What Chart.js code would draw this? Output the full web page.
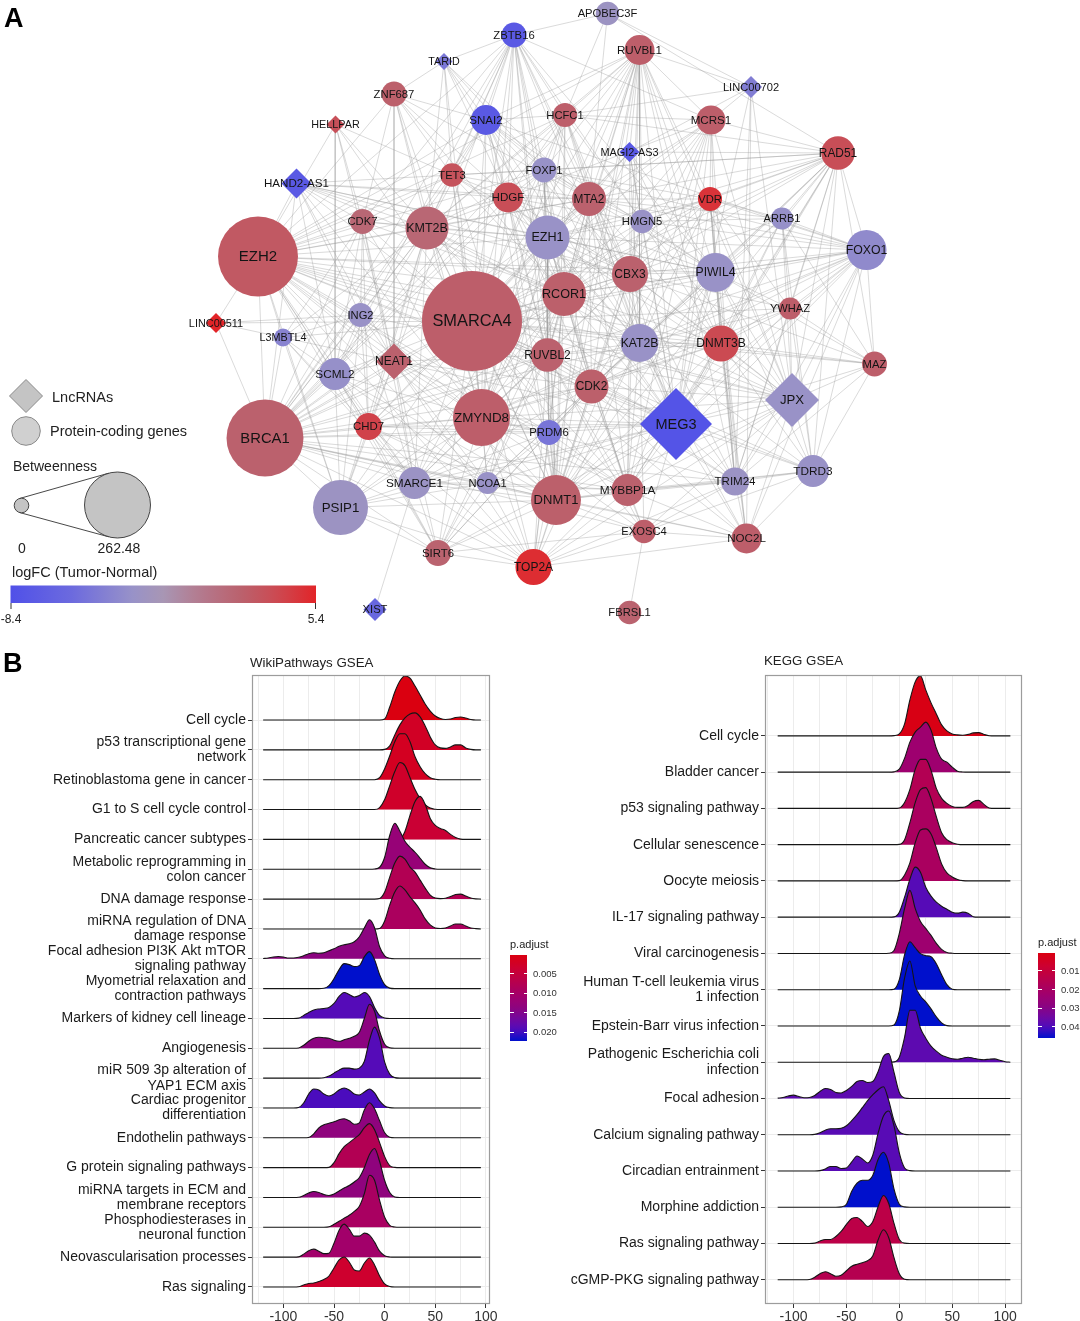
<!DOCTYPE html>
<html><head><meta charset="utf-8">
<script src="https://cdn.jsdelivr.net/npm/chart.js@4.4.1/dist/chart.umd.min.js"></script>
<style>
html,body{margin:0;padding:0;background:#fff;}
#page{position:relative;width:1080px;height:1321px;overflow:hidden;font-family:"Liberation Sans",Arial,Helvetica,sans-serif;color:#222;}
canvas{position:absolute;}
.t{position:absolute;white-space:nowrap;line-height:1;transform:translateY(-50%);}
.c{transform:translate(-50%,-50%);}
svg{position:absolute;left:0;top:0;}
</style></head><body><div id="page">
<canvas id="net" width="1080" height="635" style="left:0px;top:0px"></canvas>
<canvas id="wp" width="500" height="681" style="left:0px;top:640px"></canvas>
<canvas id="kegg" width="540" height="681" style="left:540px;top:640px"></canvas>
<svg id="legA" width="340" height="635"></svg>
<div class="t" style="left:4px;top:18px;font-weight:bold;font-size:27px;color:#000">A</div>
<div class="t" style="left:3px;top:663px;font-weight:bold;font-size:27px;color:#000">B</div>
<div class="t" style="left:52px;top:397px;font-size:14.5px">LncRNAs</div>
<div class="t" style="left:50px;top:431px;font-size:14.5px">Protein-coding genes</div>
<div class="t" style="left:13px;top:466px;font-size:14px">Betweenness</div>
<div class="t c" style="left:22px;top:548px;font-size:14px">0</div>
<div class="t c" style="left:119px;top:548px;font-size:14px">262.48</div>
<div class="t" style="left:12px;top:572px;font-size:14.5px">logFC (Tumor-Normal)</div>
<div class="t c" style="left:11px;top:619px;font-size:12px">-8.4</div>
<div class="t c" style="left:316px;top:619px;font-size:12px">5.4</div>
<div class="t" style="left:250px;top:663px;font-size:13.3px">WikiPathways GSEA</div>
<div class="t" style="left:764px;top:661px;font-size:13.3px">KEGG GSEA</div>
<div id="legWP"></div>
<div id="legKG"></div>
</div>
<script>
// ================= Panel A: network data =================
const nodeNames = ["APOBEC3F","ZBTB16","RUVBL1","TARID","LINC00702","ZNF687","SNAI2","HCFC1","MCRS1","HELLPAR",
 "MAGI2-AS3","RAD51","TET3","FOXP1","HAND2-AS1","HDGF","MTA2","VDR","HMGN5","ARRB1",
 "CDK7","KMT2B","EZH1","FOXO1","EZH2","CBX3","PIWIL4","RCOR1","SMARCA4","YWHAZ",
 "LINC00511","ING2","L3MBTL4","KAT2B","DNMT3B","RUVBL2","MAZ","NEAT1","SCML2","CDK2",
 "JPX","MEG3","CHD7","ZMYND8","BRCA1","PRDM6","TDRD3","SMARCE1","NCOA1","TRIM24",
 "DNMT1","MYBBP1A","PSIP1","EXOSC4","NOC2L","SIRT6","TOP2A","XIST","FBRSL1"];
const nodeX = [607.5,514,639.5,444,751,394,486,565,711,335.5,
 629.5,838,452,544,296.5,508,589,710,642,782,
 362.5,427,547.5,866.5,258,630,715.5,564,472,790,
 216,360.5,283,639.5,721,547.5,874.5,394,335,591.5,
 792,676,368.5,481.5,265,549,813,414.5,487.5,735,
 556,627.5,340.5,644,746.5,438,533.5,375,629.5];
const nodeY = [13.5,35,50,61.5,87,94,120,115,120,124.5,
 152,153,175,170,183.5,197.5,199,199,221.5,218.5,
 221.5,228,237.5,250,256.5,274,272.5,294,321,308.5,
 323,315,337.5,343,343.5,355,364,361.5,374,386.5,
 400,424,426.5,417.5,438,432.5,471,483,483,481.5,
 500,490,507.5,531.5,538.5,553,567,609.5,612.5];
const nodeBetweenness = [1.6,2.4,6.4,0,0.95,2.4,6.4,1.9,5.5,0.04,
 0.34,10.3,1.6,2.4,6.4,6.4,11,1.9,1.6,0.95,
 2.4,25.8,27.7,20.1,151,13.8,18.4,27.7,262.48,0.95,
 0.34,1.9,0.04,16.6,13.8,10.3,2.4,13.8,8.6,11,
 52,115,3.8,60.9,137,2.4,8.6,8.6,0.95,4.6,
 41.4,8.6,55,1.6,6.4,3.1,13.8,1.37,1.6];
const nodeLogFC = [-2.5,-7.4,2.2,-4.7,-4.3,2.1,-7.4,2.2,2.2,3.2,
 -7.4,3.3,3.0,-2.9,-7.4,3.3,2.0,4.7,-2.8,-3.0,
 1.6,1.6,-2.8,-3.4,2.6,2.0,-2.8,2.1,2.2,2.2,
 5.4,-2.8,-3.9,-2.8,3.6,2.0,2.2,2.0,-3.0,2.1,
 -2.8,-8.0,4.0,2.2,2.0,-4.9,-2.8,-2.6,-2.8,-2.6,
 2.1,2.0,-2.5,2.2,2.2,1.9,5.0,-6.0,1.9];
const nodeIsLnc = [0,0,0,1,1,0,0,0,0,1, 1,0,0,0,1,0,0,0,0,0, 0,0,0,0,0,0,0,0,0,0,
 1,0,0,0,0,0,0,1,0,0, 1,1,0,0,0,0,0,0,0,0, 0,0,0,0,0,0,0,1,0];
const edgeLists = [
 "APOBEC3F: RAD51 HCFC1 ZBTB16 MTA2 LINC00702",
 "ZBTB16: SNAI2 HCFC1 FOXP1 TET3 HDGF KMT2B EZH1 SMARCA4 RCOR1 MTA2 CBX3 EZH2 BRCA1 ZMYND8 RUVBL2 DNMT1 KAT2B CDK7 SCML2 NEAT1 PIWIL4 HMGN5 MCRS1 TARID",
 "RUVBL1: HCFC1 MCRS1 MTA2 MAGI2-AS3 HMGN5 CBX3 RCOR1 EZH1 FOXP1 SMARCA4 RUVBL2 KAT2B PIWIL4 CDK2 MEG3 DNMT1 MYBBP1A TRIM24 ZMYND8 EZH2 BRCA1 KMT2B VDR SNAI2 LINC00702 JPX DNMT3B TOP2A",
 "TARID: SNAI2 FOXP1 HDGF TET3 KMT2B EZH1 SMARCA4 MTA2 ZNF687",
 "LINC00702: MCRS1 RUVBL1 MEG3 TRIM24 JPX HCFC1 NOC2L MAGI2-AS3",
 "ZNF687: KMT2B SMARCA4 EZH2 CDK7 TET3 HDGF SNAI2 RCOR1 ZMYND8 MTA2 NEAT1",
 "SNAI2: EZH2 KMT2B SMARCA4 TET3 HDGF FOXP1 EZH1 RCOR1 MTA2 CBX3 ZMYND8 BRCA1 HCFC1 KAT2B DNMT1 PIWIL4 FOXO1 RUVBL2",
 "HCFC1: MCRS1 MTA2 FOXP1 EZH1 HDGF KMT2B SMARCA4 RCOR1 CBX3 KAT2B EZH2 BRCA1 DNMT1 MEG3 ZMYND8 RAD51 HMGN5",
 "MCRS1: MTA2 HMGN5 CBX3 RCOR1 KAT2B PIWIL4 MEG3 DNMT1 MYBBP1A RAD51 SMARCA4 EZH1 VDR HDGF JPX TRIM24",
 "HELLPAR: EZH2 CDK7 KMT2B SMARCA4 TET3 SCML2 NEAT1",
 "MAGI2-AS3: MTA2 CBX3 HMGN5 RCOR1 EZH1 KAT2B SMARCA4 PIWIL4 DNMT3B MEG3 RAD51",
 "RAD51: MCRS1 VDR ARRB1 FOXO1 PIWIL4 DNMT3B KAT2B CBX3 MTA2 HMGN5 EZH1 YWHAZ JPX MEG3 TRIM24 TDRD3 MAZ SMARCA4 RCOR1 HCFC1 FOXP1 TET3 CDK2 MYBBP1A DNMT1",
 "TET3: HDGF KMT2B EZH2 SMARCA4 CDK7 FOXP1 EZH1 RCOR1 ZMYND8 BRCA1 HAND2-AS1 MTA2 CBX3 DNMT1",
 "FOXP1: HDGF MTA2 EZH1 SMARCA4 RCOR1 KMT2B EZH2 CBX3 KAT2B ZMYND8 DNMT1 BRCA1 CDK2 HMGN5 VDR RUVBL2 PRDM6 FOXO1",
 "HAND2-AS1: EZH2 KMT2B SMARCA4 HDGF EZH1 TET3 CDK7 ING2 BRCA1 SCML2 NEAT1 ZMYND8 RCOR1 CBX3 MTA2 PIWIL4",
 "HDGF: MTA2 EZH1 SMARCA4 KMT2B RCOR1 EZH2 CBX3 ZMYND8 DNMT1 BRCA1 KAT2B RUVBL2 CDK2 PIWIL4 MEG3 HMGN5",
 "MTA2: HMGN5 EZH1 CBX3 RCOR1 SMARCA4 KAT2B PIWIL4 VDR RUVBL2 CDK2 DNMT1 MEG3 ZMYND8 KMT2B EZH2 BRCA1 DNMT3B FOXO1 ARRB1 MYBBP1A",
 "VDR: HMGN5 PIWIL4 CBX3 KAT2B DNMT3B EZH1 SMARCA4 RCOR1 MEG3 JPX FOXO1 ARRB1 CDK2 NOC2L TRIM24 YWHAZ",
 "HMGN5: CBX3 EZH1 PIWIL4 KAT2B SMARCA4 RCOR1 DNMT3B MEG3 CDK2 ARRB1 FOXO1 JPX",
 "ARRB1: FOXO1 PIWIL4 DNMT3B KAT2B YWHAZ JPX MEG3 CBX3 TDRD3 MAZ",
 "CDK7: KMT2B SMARCA4 EZH2 ING2 SCML2 NEAT1 BRCA1 ZMYND8 EZH1 RCOR1 L3MBTL4 CHD7 SMARCE1",
 "KMT2B: EZH2 SMARCA4 EZH1 RCOR1 ING2 NEAT1 SCML2 BRCA1 ZMYND8 CBX3 KAT2B RUVBL2 DNMT1 CHD7 SMARCE1 PSIP1 L3MBTL4 CDK2 MEG3",
 "EZH1: RCOR1 SMARCA4 CBX3 KAT2B PIWIL4 RUVBL2 CDK2 ZMYND8 DNMT1 EZH2 BRCA1 MEG3 PRDM6 DNMT3B NCOA1 SMARCE1 CHD7 MYBBP1A JPX",
 "FOXO1: PIWIL4 KAT2B DNMT3B YWHAZ JPX MEG3 CBX3 RCOR1 SMARCA4 EZH1 TRIM24 TDRD3 MAZ CDK2 RUVBL2 NOC2L ZMYND8 DNMT1 MYBBP1A",
 "EZH2: SMARCA4 BRCA1 ING2 L3MBTL4 SCML2 NEAT1 RCOR1 CBX3 KAT2B ZMYND8 DNMT1 CHD7 SMARCE1 PSIP1 NCOA1 RUVBL2 CDK2 MEG3 PRDM6 SIRT6 TOP2A DNMT3B PIWIL4 MYBBP1A JPX LINC00511",
 "CBX3: RCOR1 SMARCA4 KAT2B PIWIL4 DNMT3B RUVBL2 CDK2 MEG3 JPX ZMYND8 DNMT1 BRCA1 MYBBP1A TRIM24 YWHAZ MAZ",
 "PIWIL4: KAT2B DNMT3B YWHAZ JPX MEG3 CDK2 RCOR1 SMARCA4 TRIM24 TDRD3 MAZ MYBBP1A DNMT1 NOC2L",
 "RCOR1: SMARCA4 KAT2B RUVBL2 CDK2 ZMYND8 DNMT1 MEG3 BRCA1 PRDM6 NCOA1 SMARCE1 CHD7 DNMT3B JPX MYBBP1A TOP2A SIRT6 PSIP1",
 "SMARCA4: BRCA1 ZMYND8 DNMT1 MEG3 KAT2B RUVBL2 CDK2 ING2 NEAT1 SCML2 CHD7 SMARCE1 NCOA1 PRDM6 PSIP1 SIRT6 TOP2A DNMT3B JPX MYBBP1A TRIM24 L3MBTL4 EXOSC4 YWHAZ MAZ TDRD3 NOC2L LINC00511",
 "YWHAZ: JPX DNMT3B KAT2B MEG3 MAZ TDRD3 TRIM24 CDK2",
 "LINC00511: BRCA1 L3MBTL4 ING2",
 "ING2: SCML2 NEAT1 BRCA1 L3MBTL4 ZMYND8 CHD7 RUVBL2 PSIP1 SMARCE1",
 "L3MBTL4: SCML2 BRCA1 NEAT1 PSIP1 CHD7 SMARCE1",
 "KAT2B: DNMT3B RUVBL2 CDK2 MEG3 JPX ZMYND8 DNMT1 MYBBP1A TRIM24 TDRD3 PRDM6 NCOA1 BRCA1 MAZ EXOSC4 NOC2L TOP2A",
 "DNMT3B: JPX MEG3 CDK2 TRIM24 TDRD3 MAZ MYBBP1A DNMT1 RUVBL2 ZMYND8 NOC2L",
 "RUVBL2: CDK2 ZMYND8 DNMT1 MEG3 PRDM6 NCOA1 BRCA1 SMARCE1 CHD7 MYBBP1A TOP2A SIRT6 JPX PSIP1 NEAT1 EXOSC4",
 "MAZ: JPX TDRD3 TRIM24 MEG3 RAD51",
 "NEAT1: BRCA1 ZMYND8 SCML2 CHD7 SMARCE1 PSIP1 DNMT1 NCOA1 PRDM6 CDK2 MEG3 SIRT6 TOP2A",
 "SCML2: BRCA1 PSIP1 CHD7 SMARCE1 ZMYND8 NCOA1 DNMT1 SIRT6",
 "CDK2: MEG3 ZMYND8 DNMT1 PRDM6 MYBBP1A TRIM24 JPX NCOA1 TOP2A EXOSC4 SMARCE1 BRCA1 NOC2L TDRD3 SIRT6",
 "JPX: MEG3 TRIM24 TDRD3 NOC2L MYBBP1A DNMT1 EXOSC4 TOP2A ZMYND8",
 "MEG3: TRIM24 MYBBP1A DNMT1 PRDM6 ZMYND8 TDRD3 NOC2L EXOSC4 TOP2A NCOA1 SMARCE1 BRCA1 PSIP1 SIRT6 CHD7",
 "CHD7: BRCA1 ZMYND8 PSIP1 SMARCE1 NCOA1 DNMT1 SIRT6 PRDM6 TOP2A",
 "ZMYND8: BRCA1 DNMT1 PRDM6 NCOA1 SMARCE1 PSIP1 SIRT6 TOP2A MYBBP1A TRIM24 EXOSC4",
 "BRCA1: PSIP1 SMARCE1 NCOA1 DNMT1 SIRT6 TOP2A PRDM6 MYBBP1A TRIM24 NOC2L EXOSC4",
 "PRDM6: DNMT1 NCOA1 SMARCE1 MYBBP1A TOP2A SIRT6",
 "TDRD3: TRIM24 NOC2L MYBBP1A DNMT1 EXOSC4",
 "SMARCE1: PSIP1 NCOA1 DNMT1 SIRT6 TOP2A XIST MYBBP1A",
 "NCOA1: DNMT1 SIRT6 TOP2A PSIP1 MYBBP1A",
 "TRIM24: MYBBP1A NOC2L EXOSC4 DNMT1 TOP2A",
 "DNMT1: MYBBP1A TOP2A SIRT6 PSIP1 EXOSC4 NOC2L",
 "MYBBP1A: EXOSC4 NOC2L TOP2A",
 "PSIP1: SIRT6 TOP2A",
 "EXOSC4: NOC2L TOP2A FBRSL1 SIRT6",
 "NOC2L: TOP2A",
 "SIRT6: TOP2A"
];
const fcRange = [-8.4, 5.4];
const betweennessMax = 262.48;

// ================= Panel B: WikiPathways GSEA =================
const wpLabels = ["Cell cycle", ["p53 transcriptional gene","network"], "Retinoblastoma gene in cancer",
 "G1 to S cell cycle control", "Pancreatic cancer subtypes", ["Metabolic reprogramming in","colon cancer"],
 "DNA damage response", ["miRNA regulation of DNA","damage response"], ["Focal adhesion PI3K Akt mTOR","signaling pathway"],
 ["Myometrial relaxation and","contraction pathways"], "Markers of kidney cell lineage", "Angiogenesis",
 ["miR 509 3p alteration of","YAP1 ECM axis"], ["Cardiac progenitor","differentiation"], "Endothelin pathways",
 "G protein signaling pathways", ["miRNA targets in ECM and","membrane receptors"], ["Phosphodiesterases in","neuronal function"],
 "Neovascularisation processes", "Ras signaling"];
const wpPadj = [0.0001,0.0023,0.0019,0.0028,0.0039,0.0123,0.0078,0.009,0.0138,0.0223,
 0.019,0.0138,0.019,0.0196,0.0134,0.0078,0.0134,0.0094,0.0105,0.0032];
const wpPadjRange = [0.0001, 0.0223];
const wpStart = [-5,-5,-10,-10,10,-15,-10,-10,-120,-65,-90,-90,-65,-90,-80,-60,-90,-60,-90,-90];
const wpDensity = [
 [0,1,13,28,39,44,42,34,25,16,9,4,1.5,0.6,1,2.5,3,2,0.5,0],
 [0,0.5,4,15,25,32,36,37,33,24,13,5,2,1.5,3,5,5,2,0.5,0],
 [0,2,11,24,38,46,46,38,23,13,6,2,0.5,0],
 [0,2,10,24,38,47,44,32,20,11,5,1.5,0.3,0],
 [0,0.5,8,24,38,43,35,21,14,11,9,5,2,0.3,0],
 [0,0.3,2,12,34,46,38,28,22,17,11,5,1.5,0.3,0],
 [0,0.5,7,22,36,43,40,32,27,19,11,4,1,0.5,0.8,2.5,4.5,5,3,1,0.2,0],
 [0,0.5,8,24,37,43,39,32,26,19,10,4,1,0.5,1,3,5,5,3,1,0.3,0],
 [0.2,0.8,1.8,2.3,1.8,0.8,0.8,1.5,3,5,6,5.5,6,8,10,12.5,14,15,17,22,31,39,31,12,3,0.5,0],
 [0,0.3,3,10,19,25,24,22,23,32,37,29,14,4,0.5,0],
 [0,0.3,3,6,8.5,9.5,10,11,15,22,26,24,21.5,23,26,22,11,3,0.5,0],
 [0,0.3,3,7,10,11,10.5,10,8,7,8.5,10,12,16,30,44,37,17,4,0.5,0],
 [0,0.3,2,5,8,10,10,9,10,17,38,51,40,16,4,0.5,0],
 [0,0.5,5,14,19,18,14,12,14,18,20,18,14,13,16,19,15,7,2,0.3,0],
 [0,0.3,4,10,13,14.5,16,18,19,17,13.5,15,28,35,29,17,5,0.5,0],
 [0,0.3,5,14,21,25,29,33,40,44,38,25,11,2,0.3,0],
 [0,0.2,2,4.5,6,5,3,2,3.5,6.5,9.5,12,15.5,20,30,43,49,36,17,5,0.5,0],
 [0,0.5,3,6,9,12,16,21,34,52,47,27,10,2,0.3,0],
 [0,0.3,3,6.5,8,6,3.5,4,14,27,33,28,21,21,24,22,15,6,1.5,0.2,0],
 [0,0.3,2,3.5,4,5.5,7.5,11,19,27,30,25,17,16,24,29,22,11,3,0.5,0]
];
const wpXTicks = [-100,-50,0,50,100];

// ================= Panel B: KEGG GSEA =================
const keggLabels = ["Cell cycle","Bladder cancer","p53 signaling pathway","Cellular senescence","Oocyte meiosis",
 "IL-17 signaling pathway","Viral carcinogenesis",["Human T-cell leukemia virus","1 infection"],"Epstein-Barr virus infection",
 ["Pathogenic Escherichia coli","infection"],"Focal adhesion","Calcium signaling pathway","Circadian entrainment",
 "Morphine addiction","Ras signaling pathway","cGMP-PKG signaling pathway"];
const keggPadj = [0.0013,0.023,0.016,0.019,0.019,0.039,0.023,0.0459,0.0459,0.0377,0.0377,0.0386,0.0386,0.0459,0.013,0.0153];
const keggPadjRange = [0.0004, 0.0459];
const keggStart = [-10,-10,-5,-5,-5,-10,-15,-10,-10,-10,-115,-85,-80,-60,-85,-90];
const keggDensity = [
 [0,0.3,2,12,36,54,60,46,33,22,11,5,2,1,0.7,1.5,3,3.3,1.5,0.2,0],
 [0,0.3,3,14,30,40,45,50,42,24,13,10,5,1,0.2,0],
 [0,0.5,6,19,39,49,49,38,20,10,5,2,1,1,3,7,8,4,0.5,0],
 [0,0.3,5,22,42,55,57,46,28,12,5,2,0.5,0],
 [0,0.3,6,18,38,51,52,47,33,17,8,4,1.5,0.3,0],
 [0,0.3,5,20,38,50,45,30,21,15,11,8,5,4,5,4,0.5,0],
 [0,0.2,3,20,45,63,45,32,25,18,10,4,1,0.2,0],
 [0,0.5,10,35,48,42,36,34,33,26,15,5,0.5,0],
 [0,1,15,48,65,40,30,24,17,9,3,0.3,0],
 [0,0.3,5,25,52,52,34,24,16,11,7,5,3.5,3,4,5,4,3,2.5,3,3.3,2,0.5,0],
 [0.3,1,2.5,3.3,2,0.7,1,3,7,10,9,6,5.5,8,12,17,18,16,17,27,42,45,26,6,0.5,0],
 [0,0.3,2,4.5,6,6,6.5,9,14,20,27,34,40,45,48,34,14,3,0.3,0],
 [0,0.3,2,4.5,4.5,2.5,3,9,15,12,8,16,38,55,60,45,18,3,0.3,0],
 [0,0.3,3,16,24,27,27,32,48,55,44,18,3,0.3,0],
 [0,0.3,2.5,4,4,7,12,19,25,26,22,17,22,37,48,40,20,4,0.3,0],
 [0,0.2,2.5,6,8,6,3.5,4.5,9,13.5,15.5,17,19,24,40,50,42,22,6,0.5,0]
];

// ================= helpers =================
Chart.defaults.font.family = '"Liberation Sans", Arial, Helvetica, sans-serif';
function rampColor(stops, t) {
  t = Math.max(0, Math.min(1, t));
  for (let i = 1; i < stops.length; i++) {
    if (t <= stops[i][0]) {
      const a = stops[i-1], b = stops[i], u = (t - a[0]) / (b[0] - a[0]);
      const c = a[1].map((v, k) => Math.round(v + (b[1][k] - v) * u));
      return `rgb(${c[0]},${c[1]},${c[2]})`;
    }
  }
  const l = stops[stops.length-1][1];
  return `rgb(${l[0]},${l[1]},${l[2]})`;
}
const fcStops = [[0,[80,80,232]],[0.2,[108,106,222]],[0.4,[152,146,200]],[0.5,[168,150,180]],[0.62,[180,122,142]],[0.75,[186,98,110]],[0.88,[205,72,80]],[1,[226,36,40]]];
const padjStops = [[0,[218,0,16]],[0.15,[205,0,48]],[0.35,[178,0,84]],[0.5,[158,0,112]],[0.62,[140,4,128]],[0.75,[112,8,160]],[0.87,[80,12,188]],[1,[0,16,204]]];
const fcColor = v => rampColor(fcStops, (v - fcRange[0]) / (fcRange[1] - fcRange[0]));
const nodeRadius = b => 8.5 + 41.5 * Math.sqrt(b / betweennessMax);

// ================= Panel A chart =================
const nodeIdx = {};
nodeNames.forEach((n, i) => nodeIdx[n] = i);
const edgePts = [];
const seen = new Set();
edgeLists.forEach(s => {
  const parts = s.split(':');
  const a = nodeIdx[parts[0].trim()];
  parts[1].trim().split(/\s+/).forEach(nb => {
    const b = nodeIdx[nb];
    if (a === undefined || b === undefined || a === b) return;
    const key = Math.min(a,b) + '-' + Math.max(a,b);
    if (seen.has(key)) return;
    seen.add(key);
    edgePts.push({x: nodeX[a], y: nodeY[a]}, {x: nodeX[b], y: nodeY[b]}, {x: null, y: null});
  });
});

const nodeLabelPlugin = {
  id: 'nodeLabels',
  afterDatasetsDraw(chart) {
    const ctx = chart.ctx, xs = chart.scales.x, ys = chart.scales.y;
    ctx.save();
    ctx.textAlign = 'center';
    ctx.textBaseline = 'middle';
    ctx.fillStyle = '#141414';
    nodeNames.forEach((n, i) => {
      const r = nodeRadius(nodeBetweenness[i]);
      const fs = 9.6 + 0.135 * r;
      ctx.font = fs.toFixed(1) + 'px "Liberation Sans", Arial, sans-serif';
      ctx.fillText(n, xs.getPixelForValue(nodeX[i]), ys.getPixelForValue(nodeY[i]) + 0.5);
    });
    ctx.restore();
  }
};

new Chart(document.getElementById('net'), {
  type: 'scatter',
  data: { datasets: [
    { label: 'nodes', data: nodeNames.map((n, i) => ({x: nodeX[i], y: nodeY[i]})),
      pointRadius: c => nodeRadius(nodeBetweenness[c.dataIndex]),
      pointHoverRadius: c => nodeRadius(nodeBetweenness[c.dataIndex]),
      pointStyle: c => nodeIsLnc[c.dataIndex] ? 'rectRot' : 'circle',
      backgroundColor: c => fcColor(nodeLogFC[c.dataIndex]),
      borderWidth: 0, clip: false, order: 0 },
    { label: 'edges', data: edgePts, showLine: true, spanGaps: false, pointRadius: 0,
      borderColor: 'rgba(150,150,150,0.48)', borderWidth: 0.75, clip: false, order: 1 }
  ]},
  options: {
    responsive: false, animation: false, events: [],
    layout: { padding: 0, autoPadding: false },
    plugins: { legend: { display: false }, tooltip: { enabled: false } },
    scales: {
      x: { type: 'linear', display: false, min: 0, max: 1080 },
      y: { type: 'linear', display: false, min: 0, max: 635, reverse: true }
    }
  },
  plugins: [nodeLabelPlugin]
});

// legend for panel A (shapes + gradient)
(function () {
  const svg = document.getElementById('legA');
  let stops = '';
  for (let k = 0; k <= 20; k++) stops += `<stop offset="${k*5}%" stop-color="${rampColor(fcStops, k/20)}"/>`;
  svg.innerHTML =
    `<defs><linearGradient id="fcg" x1="0" x2="1" y1="0" y2="0">${stops}</linearGradient></defs>` +
    `<polygon points="9.5,396 26,379.5 42.5,396 26,412.5" fill="#c4c4c4" stroke="#8a8a8a" stroke-width="1"/>` +
    `<circle cx="26" cy="431" r="14.3" fill="#d0d0d0" stroke="#8a8a8a" stroke-width="1"/>` +
    `<line x1="19.5" y1="498.5" x2="108.7" y2="473.2" stroke="#333" stroke-width="0.9"/>` +
    `<line x1="19.5" y1="512.5" x2="108.7" y2="536.8" stroke="#333" stroke-width="0.9"/>` +
    `<circle cx="21.5" cy="505.5" r="7.3" fill="#c4c4c4" stroke="#333" stroke-width="0.9"/>` +
    `<circle cx="117.5" cy="505" r="33" fill="#c4c4c4" stroke="#333" stroke-width="0.9"/>` +
    `<rect x="10.5" y="585.5" width="305.5" height="17.5" fill="url(#fcg)"/>` +
    `<line x1="11" y1="603" x2="11" y2="609" stroke="#333" stroke-width="1"/>` +
    `<line x1="315.5" y1="603" x2="315.5" y2="609" stroke="#333" stroke-width="1"/>`;
})();

// ================= Panel B charts =================
function padjColor(p, range) { return rampColor(padjStops, (p - range[0]) / (range[1] - range[0])); }

function ridgeChart(id, cfg) {
  const N = cfg.labels.length;
  const datasets = [];
  for (let i = N - 1; i >= 0; i--) {            // bottom ridge first => drawn on top
    const base = N - i;
    const pts = [];
    for (let x = cfg.lineFrom; x <= cfg.lineTo + 1e-9; x += cfg.step) {
      const k = Math.round((x - cfg.start[i]) / cfg.step);
      const h = (k >= 0 && k < cfg.density[i].length) ? cfg.density[i][k] : 0;
      pts.push({x: x, y: base + h * cfg.scale});
    }
    datasets.push({
      data: pts, borderColor: '#151515', borderWidth: 1.1,
      backgroundColor: padjColor(cfg.padj[i], cfg.padjRange),
      fill: { value: base }, pointRadius: 0, cubicInterpolationMode: 'monotone'
    });
  }
  const inRows = v => v >= 1 && v <= N && Math.abs(v - Math.round(v)) < 1e-6;
  const borderPlugin = {
    id: 'panelBorder',
    afterDraw(chart) {
      const a = chart.chartArea, ctx = chart.ctx;
      ctx.save(); ctx.strokeStyle = '#9c9c9c'; ctx.lineWidth = 1.2;
      ctx.strokeRect(a.left + 0.5, a.top + 0.5, a.right - a.left - 1, a.bottom - a.top - 1);
      ctx.restore();
    }
  };
  new Chart(document.getElementById(id), {
    type: 'line',
    data: { datasets },
    options: {
      responsive: false, animation: false, events: [],
      layout: { padding: { top: 35, right: cfg.padRight, bottom: 0, left: 0 }, autoPadding: false },
      plugins: { legend: { display: false }, tooltip: { enabled: false }, filler: { propagate: false } },
      scales: {
        x: { type: 'linear', min: cfg.xMin, max: cfg.xMax, border: { display: false },
          afterFit: s => { s.height = 17; },
          grid: { color: '#ececec', lineWidth: 1, tickLength: 4,
            tickColor: c => (c.tick && cfg.xTicks.includes(c.tick.value)) ? '#333' : 'rgba(0,0,0,0)' },
          ticks: { stepSize: 25, includeBounds: false, autoSkip: false, maxRotation: 0, minRotation: 0, padding: 1,
            color: '#333', font: { size: 14 },
            callback: v => cfg.xTicks.includes(v) ? String(v) : '' } },
        y: { type: 'linear', min: cfg.yMin, max: cfg.yMax, border: { display: false },
          afterFit: s => { s.width = cfg.axisWidth; },
          grid: { color: c => (c.tick && inRows(c.tick.value)) ? '#ececec' : 'rgba(0,0,0,0)', tickLength: 4,
            tickColor: c => (c.tick && inRows(c.tick.value)) ? '#333' : 'rgba(0,0,0,0)' },
          ticks: { stepSize: 1, includeBounds: false, autoSkip: false, padding: 2, color: '#1a1a1a',
            font: { size: 14, lineHeight: 1.08 },
            callback: v => inRows(v) ? cfg.labels[N - Math.round(v)] : '' } }
      }
    },
    plugins: [borderPlugin]
  });
}

ridgeChart('wp', { labels: wpLabels, padj: wpPadj, padjRange: wpPadjRange, start: wpStart, density: wpDensity,
  step: 5, lineFrom: -120, lineTo: 95, scale: 1 / 29.84, xMin: -131, xMax: 104, xTicks: wpXTicks,
  yMin: 0.43, yMax: 21.51, axisWidth: 252, padRight: 10 });
ridgeChart('kegg', { labels: keggLabels, padj: keggPadj, padjRange: keggPadjRange, start: keggStart, density: keggDensity,
  step: 5, lineFrom: -115, lineTo: 105, scale: 1 / 36.25, xMin: -127, xMax: 116, xTicks: wpXTicks,
  yMin: 0.33, yMax: 17.68, axisWidth: 225, padRight: 58 });

// p.adjust colour bars
function padjLegend(id, left, top, height, range, breaks, fmt) {
  const el = document.getElementById(id);
  let g = [];
  for (let k = 0; k <= 20; k++) g.push(rampColor(padjStops, k / 20) + ' ' + (k * 5) + '%');
  let html = `<div class="t" style="left:${left}px;top:${top - 11}px;font-size:11px">p.adjust</div>` +
    `<div style="position:absolute;left:${left}px;top:${top}px;width:17px;height:${height}px;background:linear-gradient(to bottom,${g.join(',')})"></div>`;
  breaks.forEach(b => {
    const y = top + (b - range[0]) / (range[1] - range[0]) * height;
    html += `<div style="position:absolute;left:${left}px;top:${y - 0.5}px;width:3.5px;height:1px;background:#fff"></div>`;
    html += `<div style="position:absolute;left:${left + 13.5}px;top:${y - 0.5}px;width:3.5px;height:1px;background:#fff"></div>`;
    html += `<div class="t" style="left:${left + 23}px;top:${y}px;font-size:9.5px;color:#333">${fmt(b)}</div>`;
  });
  el.innerHTML = html;
}
padjLegend('legWP', 510, 955, 86, wpPadjRange, [0.005, 0.010, 0.015, 0.020], b => b.toFixed(3));
padjLegend('legKG', 1038, 953, 85, keggPadjRange, [0.01, 0.02, 0.03, 0.04], b => b.toFixed(2));
</script>
</body></html>
